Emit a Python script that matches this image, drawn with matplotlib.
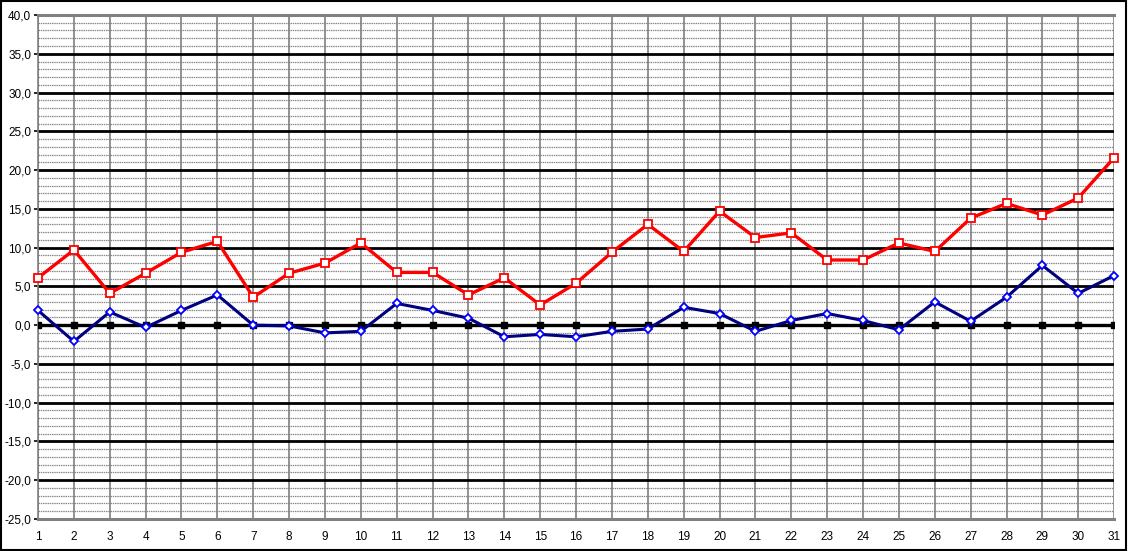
import numpy as np
import matplotlib.pyplot as plt
from matplotlib.ticker import FuncFormatter, MultipleLocator

plt.rcParams["font.family"] = ["Liberation Sans", "DejaVu Sans"]
plt.rcParams["font.size"] = 8.5

# data
days = list(range(1, 32))
red_vals = [6.1, 9.7, 4.1, 6.7, 9.4, 10.8, 3.6, 6.7, 8.0, 10.6,
            6.8, 6.8, 3.9, 6.1, 2.6, 5.4, 9.4, 13.0, 9.5, 14.7,
            11.3, 11.9, 8.4, 8.4, 10.6, 9.5, 13.8, 15.7, 14.2, 16.4, 21.6]
blue_vals = [1.9, -2.1, 1.7, -0.3, 1.9, 3.9, 0.0, -0.1, -1.0, -0.8,
             2.8, 1.9, 0.9, -1.5, -1.2, -1.5, -0.8, -0.5, 2.3, 1.5,
             -0.8, 0.6, 1.5, 0.6, -0.6, 3.0, 0.5, 3.6, 7.7, 4.1, 6.4]
zero_vals = [0.0] * 31
y_min, y_max = -25, 40

fig = plt.figure(figsize=(11.28, 5.51), dpi=100)
ax = fig.add_axes([0.0337, 0.0581, 0.954, 0.9147])

# minor dashed grid every 1
for v in range(y_min + 1, y_max):
    if v % 5 != 0:
        ax.axhline(v, color="#8a8a8a", lw=0.9, ls=(0, (1.2, 0.6)), zorder=1)
# major grid every 5
for v in range(y_min + 5, y_max, 5):
    if v != 0:
        ax.axhline(v, color="black", lw=2.0, zorder=2)
# vertical lines
for d in days:
    ax.axvline(d, color="#7f7f7f", lw=1.2, zorder=1.5)

ax.plot(days, zero_vals, color="black", lw=2.4, marker="s", ms=4.2,
        mfc="black", mec="black", zorder=3)
ax.plot(days, blue_vals, color="#000080", lw=2.2, marker="D", ms=4,
        mfc="white", mec="blue", mew=1.3, zorder=4, clip_on=False)
ax.plot(days, red_vals, color="#ff0000", lw=2.4, marker="s", ms=5.5,
        mfc="white", mec="red", mew=1.3, zorder=5, clip_on=False)

ax.set_xlim(1, 31)
ax.set_ylim(y_min, y_max)
ax.set_xticks(days)
ax.yaxis.set_major_locator(MultipleLocator(5))
ax.yaxis.set_major_formatter(FuncFormatter(lambda v, p: f"{v:.1f}".replace(".", ",")))
ax.tick_params(axis="y", length=3, width=1.2, pad=2, colors="black")
ax.tick_params(axis="x", length=0, pad=9)

for s in ["top", "bottom"]:
    ax.spines[s].set_color("#808080")
    ax.spines[s].set_linewidth(2.2)
ax.spines["left"].set_color("#808080")
ax.spines["left"].set_linewidth(1.2)
ax.spines["right"].set_visible(False)

# outer frame
fig.patches.append(plt.Rectangle((0.001, 0.002), 0.997, 0.996, transform=fig.transFigure,
                                 fill=False, ec="black", lw=1.5))

fig.savefig("out.png", dpi=100)
